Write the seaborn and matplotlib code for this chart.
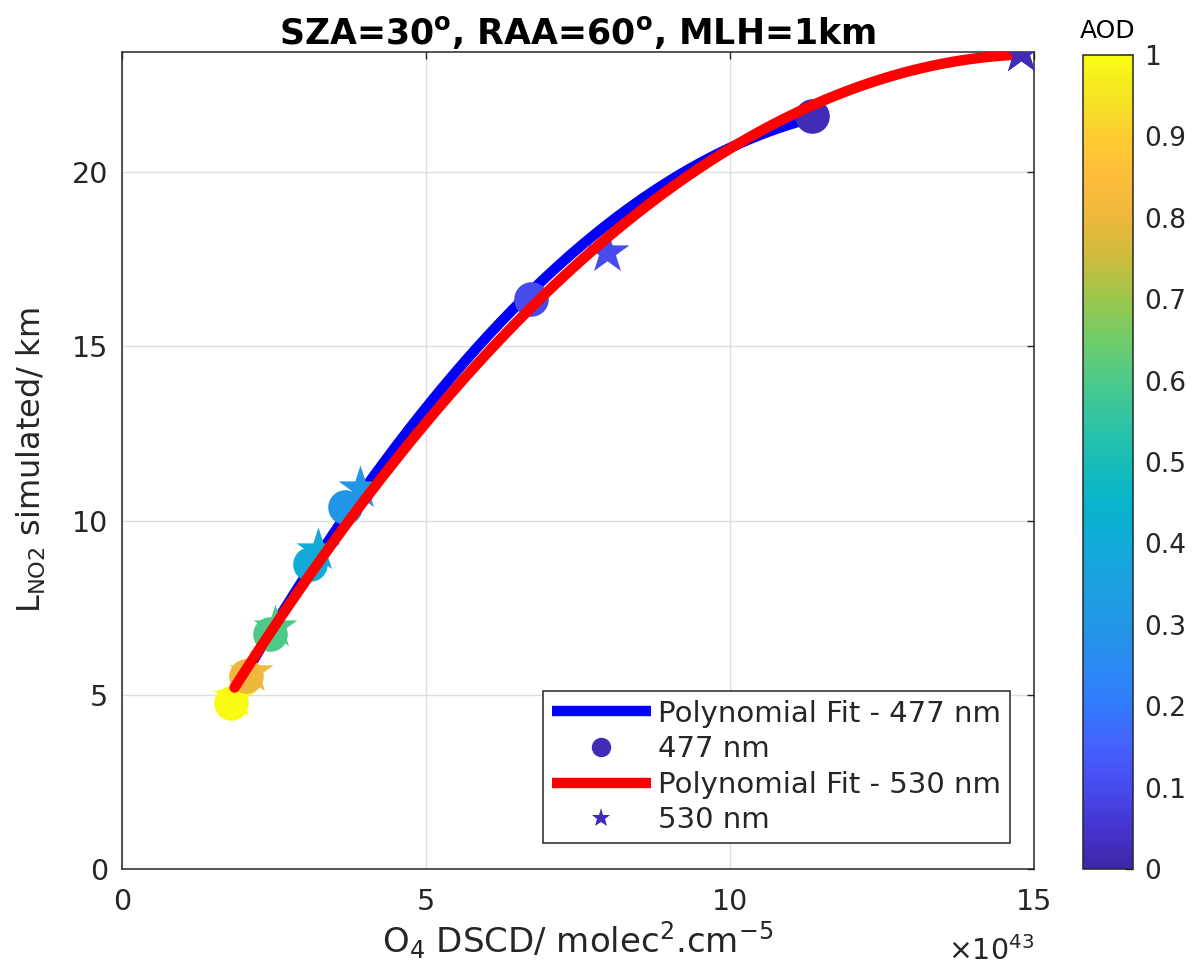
import numpy as np
import matplotlib
matplotlib.use("Agg")
import matplotlib.pyplot as plt
from matplotlib.colors import LinearSegmentedColormap, Normalize
from matplotlib.cm import ScalarMappable
from matplotlib.lines import Line2D
from matplotlib.ticker import FuncFormatter
import pandas as pd
import seaborn as sns

# Aerosol optical depth of each simulated scenario
aod = [1.0, 0.8, 0.6, 0.4, 0.3, 0.1, 0.02]

# 477 nm: O4 differential slant column density and simulated NO2 path length
o4_477 = [1.79e43, 2.04e43, 2.43e43, 3.09e43, 3.67e43, 6.72e43, 11.35e43]
l_477 = [4.77, 5.55, 6.75, 8.75, 10.38, 16.35, 21.60]

# 530 nm
o4_530 = [1.85e43, 2.12e43, 2.52e43, 3.22e43, 3.91e43, 7.97e43, 14.78e43]
l_530 = [4.95, 5.65, 6.95, 9.15, 10.95, 17.70, 23.45]

x_ticks = [0, 5e43, 10e43, 15e43]
y_ticks = [0, 5, 10, 15, 20]
cbar_ticks = [0, 0.1, 0.2, 0.3, 0.4, 0.5, 0.6, 0.7, 0.8, 0.9, 1.0]
cbar_labels = ["0", "0.1", "0.2", "0.3", "0.4", "0.5", "0.6", "0.7", "0.8", "0.9", "1"]

# parula-like colour map
parula_anchors = [
    (0.00, (0.2422, 0.1504, 0.6603)),
    (0.05, (0.2740, 0.2050, 0.8150)),
    (0.10, (0.2810, 0.2960, 0.9300)),
    (0.15, (0.2700, 0.3800, 0.9900)),
    (0.20, (0.1960, 0.4840, 0.9900)),
    (0.25, (0.1700, 0.5400, 0.9500)),
    (0.30, (0.1300, 0.5900, 0.9000)),
    (0.35, (0.1150, 0.6300, 0.8800)),
    (0.40, (0.0700, 0.6700, 0.8500)),
    (0.45, (0.0300, 0.7100, 0.8000)),
    (0.50, (0.0900, 0.7400, 0.7200)),
    (0.55, (0.1900, 0.7700, 0.6400)),
    (0.60, (0.3000, 0.7900, 0.5400)),
    (0.65, (0.4400, 0.8000, 0.4200)),
    (0.70, (0.6000, 0.7800, 0.3000)),
    (0.75, (0.8000, 0.7400, 0.2400)),
    (0.80, (0.9300, 0.7200, 0.2400)),
    (0.85, (0.9900, 0.7400, 0.2300)),
    (0.90, (0.9950, 0.8000, 0.2000)),
    (0.95, (0.9600, 0.9000, 0.1400)),
    (1.00, (0.9769, 0.9839, 0.0805)),
]
parula = LinearSegmentedColormap.from_list("parula", parula_anchors)
norm = Normalize(0, 1)

sns.set_theme(style="white")
plt.rcParams["font.family"] = ["DejaVu Sans"]
plt.rcParams["mathtext.fontset"] = "dejavusans"

ink = "#262626"

fig = plt.figure(figsize=(11.94, 9.77), dpi=100)
ax = fig.add_axes([0.1022, 0.1105, 0.7638, 0.8363])

scale = 1e43


def fit_curve(x, y):
    xs = np.asarray(x) / scale
    coef = np.polyfit(xs, np.asarray(y), 2)
    xx = np.linspace(xs.min(), xs.max(), 300)
    return pd.DataFrame({"x": xx * scale, "y": np.polyval(coef, xx)})


fit477 = fit_curve(o4_477, l_477)
fit530 = fit_curve(o4_530, l_530)

sns.lineplot(data=fit477, x="x", y="y", color="#0000ff", lw=7.5, ax=ax,
             sort=False, zorder=2)

z = 3
for i in range(len(aod)):
    c = parula(norm(aod[i]))
    ax.scatter([o4_530[i]], [l_530[i]], marker="*", s=1100, color=c,
               linewidths=0, zorder=z)
    z += 0.1
    ax.scatter([o4_477[i]], [l_477[i]], marker="o", s=620, color=c,
               linewidths=0, zorder=z)
    z += 0.1

sns.lineplot(data=fit530, x="x", y="y", color="#ff0000", lw=7.5, ax=ax,
             sort=False, zorder=5)
# the highest-signal star sits on top of the fit end
ax.scatter([o4_530[-1]], [l_530[-1]], marker="*", s=1100,
           color=parula(norm(aod[-1])), linewidths=0, zorder=6)

ax.set_xlim(0, 15e43)
ax.set_ylim(0, max(l_530))
ax.set_xticks(x_ticks)
ax.set_yticks(y_ticks)
ax.xaxis.set_major_formatter(FuncFormatter(lambda v, p: f"{v / scale:g}"))
ax.text(1.0, -0.082, r"$\times$10$^{43}$", transform=ax.transAxes,
        ha="right", va="top", fontsize=20.5, color=ink)

ax.grid(True, color="#dedede", lw=1.0)
ax.set_axisbelow(True)
for s in ax.spines.values():
    s.set_color(ink)
    s.set_linewidth(1.1)
ax.tick_params(direction="in", length=5, width=1, colors=ink,
               labelsize=20.5, top=True, right=True, pad=10)
ax.tick_params(axis="x", pad=14)

ax.set_xlabel(r"O$_4$ DSCD/ molec$^2$.cm$^{\mathrm{-5}}$", fontsize=24.5,
              color=ink, labelpad=2)
ax.set_ylabel(r"L$_{\mathrm{NO2}}$ simulated/ km", fontsize=23, color=ink,
              labelpad=17)
ax.set_title(r"SZA=30$^\mathbf{o}$, RAA=60$^\mathbf{o}$, MLH=1km",
             fontsize=25, fontweight="bold", pad=6, color="black")

handles = [
    Line2D([], [], color="#0000ff", lw=7.5, solid_capstyle="butt"),
    Line2D([], [], ls="none", marker="o", markersize=14,
           color=parula(norm(aod[-1])), markeredgewidth=0),
    Line2D([], [], color="#ff0000", lw=7.5, solid_capstyle="butt"),
    Line2D([], [], ls="none", marker="*", markersize=14,
           color=parula(norm(aod[-1])), markeredgewidth=0),
]
labels = ["Polynomial Fit - 477 nm", "477 nm", "Polynomial Fit - 530 nm", "530 nm"]
leg = ax.legend(handles, labels, loc="lower right",
                bbox_to_anchor=(0.9737, 0.0318), borderaxespad=0,
                fontsize=21, handlelength=3.4, handletextpad=0.25,
                labelspacing=0.26, borderpad=0.3, fancybox=False,
                framealpha=1, edgecolor=ink)
leg.get_frame().set_linewidth(1.1)

cax = fig.add_axes([0.907, 0.1105, 0.042, 0.8332])
cb = fig.colorbar(ScalarMappable(norm=norm, cmap=parula), cax=cax)
cb.set_ticks(cbar_ticks)
cb.set_ticklabels(cbar_labels)
cb.outline.set_edgecolor(ink)
cb.outline.set_linewidth(1.1)
cax.tick_params(direction="in", length=6, width=1, colors=ink,
                labelsize=19, pad=8)
cax.text(0.5, 1.015, "AOD", transform=cax.transAxes, ha="center",
         va="bottom", fontsize=18, color="black")

fig.savefig("out.png", dpi=100)
